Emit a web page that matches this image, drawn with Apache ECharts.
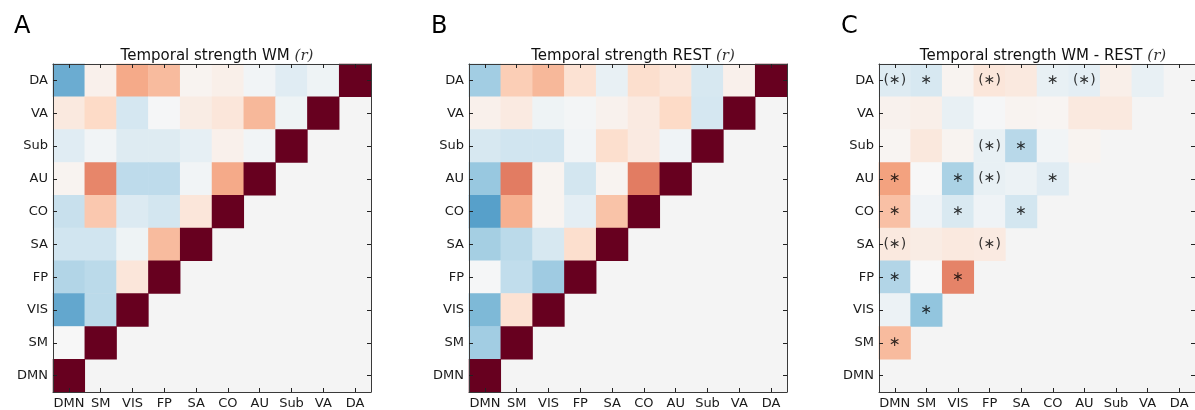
<!DOCTYPE html>
<html>
<head>
<meta charset="utf-8">
<script src="https://cdn.jsdelivr.net/npm/echarts@6/dist/echarts.min.js"></script>
<style>
  html, body { margin: 0; padding: 0; background: #fff; }
  #chart { width: 1195px; height: 410px; }
</style>
</head>
<body>
<div id="chart"></div>
<script>
// Network labels along both axes (x left→right, y bottom→top)
const networks = ['DMN', 'SM', 'VIS', 'FP', 'SA', 'CO', 'AU', 'Sub', 'VA', 'DA'];

// Rows listed from the top row (DA) down to DMN; columns follow `networks`.
// Each row stops at the diagonal: cells past it are masked.
const wmRows = [
  [-0.50, 0.05, 0.38, 0.32, 0.03, 0.06, -0.03, -0.12, -0.05, 1],
  [0.10, 0.20, -0.18, -0.01, 0.08, 0.12, 0.33, -0.05, 1],
  [-0.12, -0.03, -0.13, -0.13, -0.09, 0.05, -0.03, 1],
  [0.03, 0.49, -0.26, -0.26, -0.03, 0.38, 1],
  [-0.23, 0.27, -0.14, -0.19, 0.12, 1],
  [-0.20, -0.20, -0.05, 0.32, 1],
  [-0.30, -0.27, 0.12, 1],
  [-0.52, -0.27, 1],
  [0.00, 1],
  [1]
];

const restRows = [
  [-0.35, 0.25, 0.33, 0.15, -0.08, 0.17, 0.12, -0.17, 0.05, 1],
  [0.05, 0.09, -0.05, -0.02, 0.04, 0.09, 0.20, -0.18, 1],
  [-0.17, -0.20, -0.20, -0.03, 0.17, 0.09, -0.04, 1],
  [-0.38, 0.52, 0.03, -0.19, 0.03, 0.52, 1],
  [-0.55, 0.36, 0.03, -0.10, 0.29, 1],
  [-0.34, -0.27, -0.17, 0.17, 1],
  [-0.01, -0.25, -0.36, 1],
  [-0.45, 0.15, 1],
  [-0.35, 1],
  [1]
];

// Difference WM - REST, off-diagonal cells only
const diffRows = [
  [-0.13, -0.17, 0.03, 0.12, 0.10, -0.08, -0.10, 0.06, -0.08],
  [0.04, 0.06, -0.08, -0.01, 0.03, 0.02, 0.10, 0.10],
  [0.02, 0.11, 0.03, -0.08, -0.28, -0.03, 0.03],
  [0.41, 0.00, -0.32, -0.08, -0.06, -0.12],
  [0.30, -0.04, -0.16, -0.04, -0.19],
  [0.10, 0.08, 0.10, 0.09],
  [-0.30, 0.00, 0.50],
  [-0.06, -0.40],
  [0.32]
];

// Significance markers on the difference map: [column, row, mark]
const sigMarks = [
  ['DMN', 'DA', '(∗)'], ['SM', 'DA', '∗'], ['FP', 'DA', '(∗)'], ['CO', 'DA', '∗'], ['AU', 'DA', '(∗)'],
  ['FP', 'Sub', '(∗)'], ['SA', 'Sub', '∗'],
  ['DMN', 'AU', '∗'], ['VIS', 'AU', '∗'], ['FP', 'AU', '(∗)'], ['CO', 'AU', '∗'],
  ['DMN', 'CO', '∗'], ['VIS', 'CO', '∗'], ['SA', 'CO', '∗'],
  ['DMN', 'SA', '(∗)'], ['FP', 'SA', '(∗)'],
  ['DMN', 'FP', '∗'], ['VIS', 'FP', '∗'],
  ['SM', 'VIS', '∗'],
  ['DMN', 'SM', '∗']
];

const panelTitles = ['Temporal strength WM ', 'Temporal strength REST ', 'Temporal strength WM - REST '];
const panelLetters = ['A', 'B', 'C'];

// RdBu reversed
const rdbuR = ['#053061', '#2166ac', '#4393c3', '#92c5de', '#d1e5f0', '#f7f7f7',
               '#fddbc7', '#f4a582', '#d6604d', '#b2182b', '#67001f'];

function toCells(rows) {
  const out = [];
  const n = networks.length;
  rows.forEach((row, r) => {
    row.forEach((v, c) => {
      if (v !== null && v !== undefined) out.push([c, n - 1 - r, v]);
    });
  });
  return out;
}

const gridLefts = [53, 469, 879];
const gridTop = 64, gridW = 318, gridH = 329;
const font = 'DejaVu Sans';
const axisColor = '#3a3a3a';

const grids = [], xAxes = [], yAxes = [], titles = [];
gridLefts.forEach((left, g) => {
  grids.push({ left: left, top: gridTop, width: gridW, height: gridH,
               show: true, backgroundColor: '#f4f4f4', borderWidth: 0 });
  const common = {
    type: 'category', data: networks, gridIndex: g, z: 10,
    axisLine: { show: true, lineStyle: { color: axisColor, width: 1 } },
    axisTick: { show: true, inside: true, length: 4, alignWithLabel: true, interval: 0,
                lineStyle: { color: '#222', width: 1 } },
    splitLine: { show: false }
  };
  const labelStyle = { fontFamily: font, fontSize: 13, color: '#1a1a1a', margin: 5, interval: 0 };
  xAxes.push(Object.assign({}, common, { position: 'bottom', axisLabel: labelStyle }));
  xAxes.push(Object.assign({}, common, { position: 'top', axisLabel: { show: false } }));
  yAxes.push(Object.assign({}, common, { position: 'left', axisLabel: labelStyle }));
  yAxes.push(Object.assign({}, common, { position: 'right', axisLabel: { show: false } }));

  titles.push({
    text: panelTitles[g] + '{it|(r)}',
    left: left + gridW / 2, top: 44, textAlign: 'center',
    textStyle: { fontFamily: font, fontSize: 15, fontWeight: 'normal', color: '#111',
      rich: { it: { fontFamily: 'DejaVu Serif', fontStyle: 'italic', fontSize: 15, color: '#333' } } }
  });
});
[9, 426, 836].forEach((x, i) => {
  titles.push({ text: panelLetters[i], left: x, top: 10,
    textStyle: { fontFamily: font, fontSize: 24, fontWeight: 'normal', color: '#000' } });
});

const series = [wmRows, restRows, diffRows].map((rows, g) => ({
  type: 'heatmap', xAxisIndex: g * 2, yAxisIndex: g * 2,
  data: toCells(rows), itemStyle: { borderWidth: 0 }, emphasis: { disabled: true }
}));

series.push({
  type: 'scatter', xAxisIndex: 4, yAxisIndex: 4, symbolSize: 1,
  itemStyle: { color: 'rgba(0,0,0,0)' }, z: 5,
  data: sigMarks.map(m => [m[0], m[1], m[2]]),
  label: { show: true, position: 'inside', formatter: p => p.value[2],
           fontFamily: font, fontSize: 14, color: '#000' }
});

const chart = echarts.init(document.getElementById('chart'), null, { renderer: 'canvas' });
chart.setOption({
  animation: false,
  backgroundColor: '#ffffff',
  title: titles,
  grid: grids,
  xAxis: xAxes,
  yAxis: yAxes,
  visualMap: {
    type: 'continuous', show: false, min: -1, max: 1, dimension: 2,
    seriesIndex: [0, 1, 2], inRange: { color: rdbuR }
  },
  series: series
});
</script>
</body>
</html>
